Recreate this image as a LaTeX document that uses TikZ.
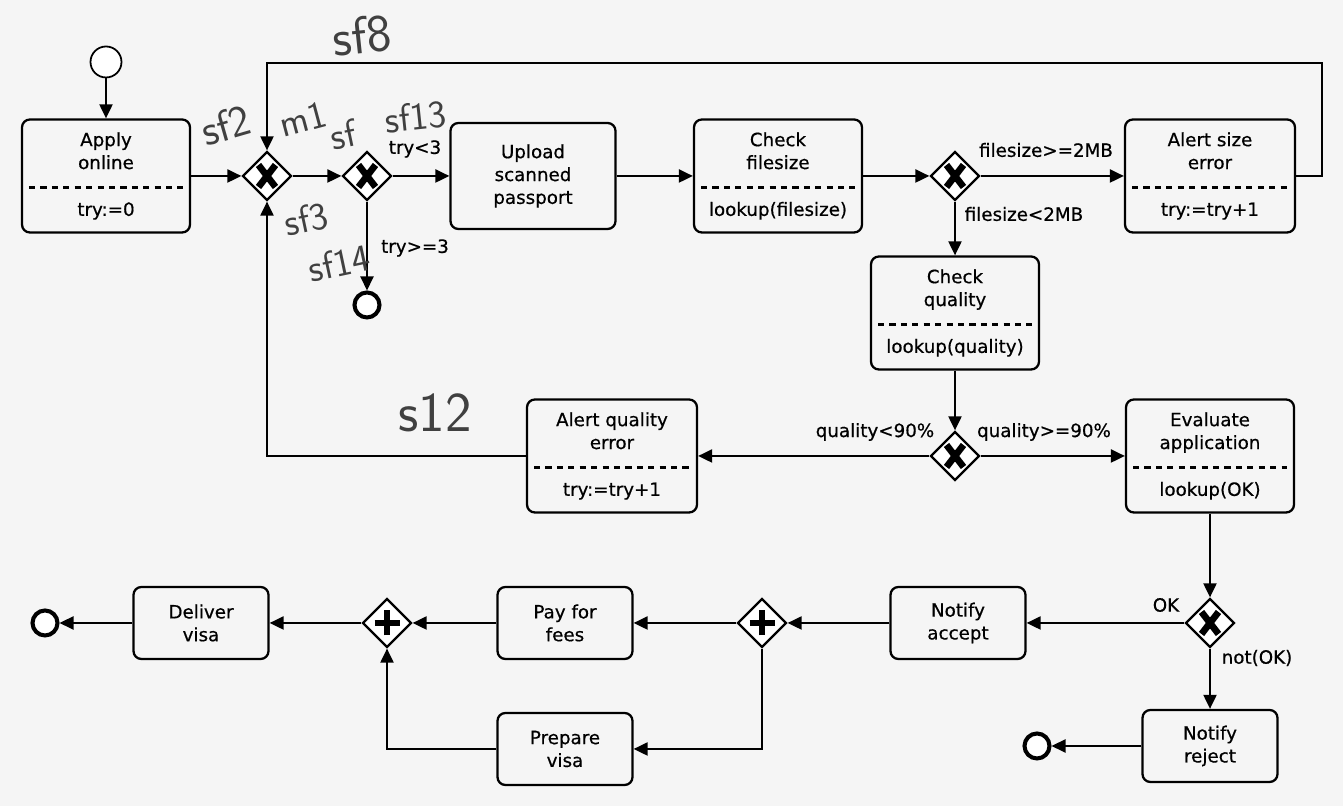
\documentclass[tikz,border=0pt]{standalone}
\usepackage{fontspec}
\newfontfamily\bpmnfont[FakeBold=0.6]{DejaVu Sans}
\usetikzlibrary{arrows.meta, positioning, shapes.geometric}
\tikzset{>={Triangle[length=8pt,width=7.5pt]},
    flow/.style={->, line width=1pt},
    task/.style={rectangle, rounded corners=4.5pt, draw, line width=1.3pt, align=center,
        minimum width=2.7cm, minimum height=1.44cm, inner sep=2pt},
    datatask/.style={task, minimum width=3.36cm, minimum height=2.26cm,
        path picture={\draw[line width=1.4pt, dash pattern=on 3.5pt off 3pt]
            ([shift={(0.14,-1.36)}]path picture bounding box.north west) --
            ([shift={(-0.14,-1.36)}]path picture bounding box.north east);}},
    gateway/.style={diamond, draw, line width=1.3pt, fill=white,
        minimum width=0.98cm, minimum height=0.98cm, inner sep=0pt},
    xorgw/.style={gateway, path picture={\draw[line width=3.8pt]
            ([shift={(-0.17,-0.22)}]path picture bounding box.center) -- ([shift={(0.17,0.22)}]path picture bounding box.center)
            ([shift={(-0.17,0.22)}]path picture bounding box.center) -- ([shift={(0.17,-0.22)}]path picture bounding box.center);}},
    andgw/.style={gateway, path picture={\draw[line width=3.8pt]
            ([xshift=-0.25cm]path picture bounding box.center) -- ([xshift=0.25cm]path picture bounding box.center)
            ([yshift=-0.25cm]path picture bounding box.center) -- ([yshift=0.25cm]path picture bounding box.center);}},
    startev/.style={circle, draw, line width=1pt, fill=white, minimum size=0.62cm, inner sep=0pt},
    endev/.style={circle, draw, line width=2.3pt, fill=white, minimum size=0.5cm, inner sep=0pt},
    condition/.style={inner sep=1pt},
    scribble/.style={font=\normalfont\sffamily\fontsize{22}{22}\selectfont, text=black!75, inner sep=0pt}}

\begin{document}
\begin{tikzpicture}[font=\bpmnfont\fontsize{10.4}{13}\selectfont]
\fill[black!4] (0,0) rectangle (26.86,16.12);
\useasboundingbox (0,0) rectangle (26.86,16.12);

% top row
\node[startev] (start) at (2.12,14.88) {};
\node[datatask] (apply) at (2.12,12.6) {Apply\\online\\[0.48cm]try:=0};
\node[xorgw] (mergeA) at (5.34,12.6) {};
\node[xorgw] (trygw) at (7.34,12.6) {};
\node[endev] (tryend) at (7.34,10.02) {};
\node[task, minimum width=3.3cm, minimum height=2.12cm] (upload) at (10.66,12.6) {Upload\\scanned\\passport};
\node[datatask] (filesize) at (15.56,12.6) {Check\\filesize\\[0.48cm]lookup(filesize)};
\node[xorgw] (sizegw) at (19.1,12.6) {};
\node[datatask, minimum width=3.4cm] (sizealert) at (24.2,12.6) {Alert size\\error\\[0.48cm]try:=try+1};

% middle rows
\node[datatask] (quality) at (19.1,9.86) {Check\\quality\\[0.48cm]lookup(quality)};
\node[xorgw] (qualgw) at (19.1,7.0) {};
\node[datatask, minimum width=3.4cm] (qualalert) at (12.24,7.0) {Alert quality\\error\\[0.48cm]try:=try+1};
\node[datatask] (evaluate) at (24.2,7.0) {Evaluate\\application\\[0.48cm]lookup(OK)};

% bottom rows
\node[xorgw] (okgw) at (24.2,3.66) {};
\node[task] (accept) at (19.16,3.66) {Notify\\accept};
\node[task] (reject) at (24.2,1.2) {Notify\\reject};
\node[endev] (rejectend) at (20.74,1.2) {};
\node[andgw] (forkgw) at (15.24,3.66) {};
\node[task] (pay) at (11.3,3.66) {Pay for\\fees};
\node[task] (prepare) at (11.3,1.14) {Prepare\\visa};
\node[andgw] (joingw) at (7.74,3.66) {};
\node[task] (deliver) at (4.02,3.66) {Deliver\\visa};
\node[endev] (visaend) at (0.9,3.66) {};

\coordinate (loopt) at (26.44,14.86);

\path[flow]
    (start) edge (apply)
    (apply) edge (mergeA)
    (mergeA) edge (trygw)
    (trygw) edge (upload)
    (trygw) edge (tryend)
    (upload) edge (filesize)
    (filesize) edge (sizegw)
    (sizegw) edge (sizealert)
    (sizegw) edge (quality)
    (quality) edge (qualgw)
    (qualgw) edge (qualalert)
    (qualgw) edge (evaluate)
    (evaluate) edge (okgw)
    (okgw) edge (accept)
    (okgw) edge (reject)
    (reject) edge (rejectend)
    (accept) edge (forkgw)
    (forkgw) edge (pay)
    (pay) edge (joingw)
    (joingw) edge (deliver)
    (deliver) edge (visaend);
\draw[flow] (sizealert.east) -| (loopt) -| (mergeA.north);
\draw[flow] (qualalert.west) -| (mergeA.south);
\draw[flow] (forkgw.south) |- (prepare.east);
\draw[flow] (prepare.west) -| (joingw.south);

% conditions
\node[condition] (ctrylow) at (8.3,13.14) {try<3};
\node[condition] (ctryhigh) at (8.3,11.16) {try>=3};
\node[condition] (cbig) at (20.92,13.12) {filesize>=2MB};
\node[condition] (csmall) at (20.48,11.84) {filesize<2MB};
\node[condition] (cbad) at (17.5,7.48) {quality<90\%};
\node[condition] (cgood) at (20.88,7.48) {quality>=90\%};
\node[condition] (cok) at (23.32,4.02) {OK};
\node[condition] (cnotok) at (25.14,2.96) {not(OK)};

% pencil notes
\node[scribble, font=\normalfont\sffamily\fontsize{30}{30}\selectfont, rotate=6] (nsf8) at (7.24,15.42) {sf8};
\node[scribble, font=\normalfont\sffamily\fontsize{25}{25}\selectfont, rotate=16] (nsf2) at (4.52,13.62) {sf2};
\node[scribble, rotate=15] (nm1) at (6.06,13.74) {m1};
\node[scribble, rotate=12] (nsf) at (6.86,13.42) {sf};
\node[scribble, rotate=6] (nsf13) at (8.32,13.78) {sf13};
\node[scribble, rotate=12] (nsf3) at (6.12,11.74) {sf3};
\node[scribble, rotate=12] (nsf14) at (6.78,10.86) {sf14};
\node[scribble, font=\normalfont\sffamily\fontsize{32}{32}\selectfont] (ns12) at (8.7,7.86) {s12};
\end{tikzpicture}
\end{document}
